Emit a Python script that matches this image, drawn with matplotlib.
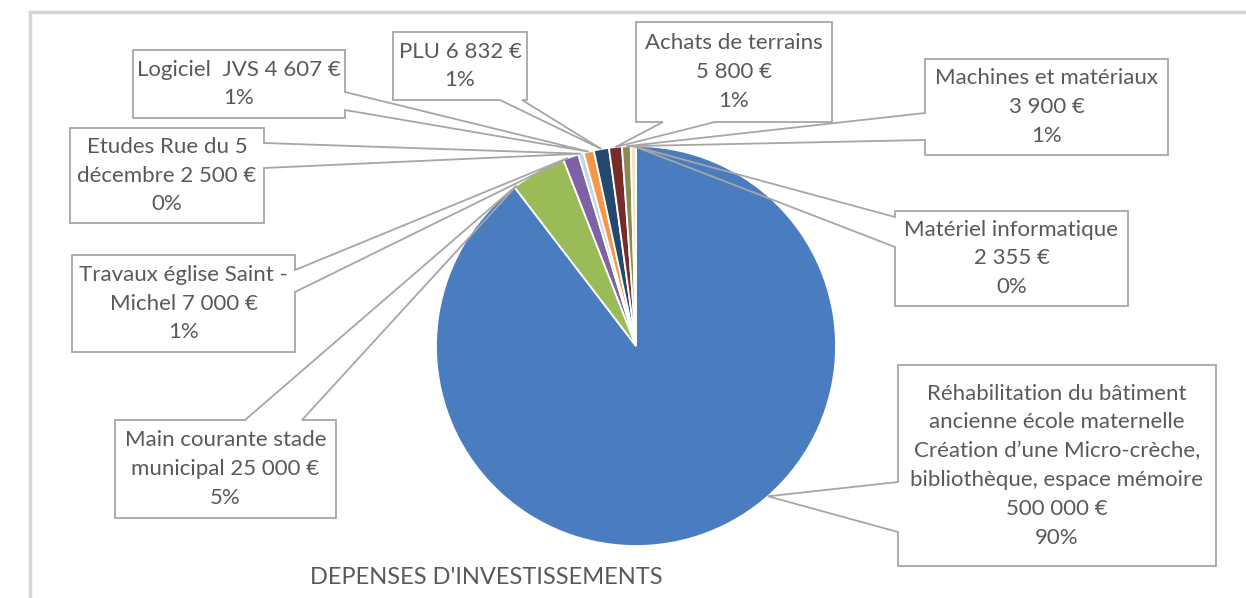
import numpy as np
import matplotlib
matplotlib.use("Agg")
import matplotlib.pyplot as plt
from matplotlib.patches import Polygon

# data
titles = [
    "Réhabilitation du bâtiment\nancienne école maternelle\nCréation d’une Micro-crèche,\nbibliothèque, espace mémoire\n",
    "Main courante stade\nmunicipal ",
    "Travaux église Saint -\nMichel ",
    "Etudes Rue du 5\ndécembre ",
    "Logiciel  JVS ",
    "PLU ",
    "Achats de terrains\n",
    "Machines et matériaux\n",
    "Matériel informatique\n",
]
amounts = [500000, 25000, 7000, 2500, 4607, 6832, 5800, 3900, 2355]
pct_labels = ["90%", "5%", "1%", "0%", "1%", "1%", "1%", "1%", "0%"]
colors = ["#4a7dbf", "#9bbb59", "#7f62a6", "#bcd9e6", "#f79646",
          "#23496f", "#772c2a", "#8a8a52", "#ece6c4"]

# layout (pixels, y from top)
W, H = 1246, 598
cx, cy, R = 636, 346, 200
boxes = [(898, 365, 1216, 566), (115, 420, 336, 518), (72, 255, 295, 352),
         (70, 128, 264, 223), (133, 50, 345, 118), (393, 32, 527, 100),
         (636, 22, 832, 122), (925, 59, 1168, 155), (895, 211, 1128, 306)]
sides = ["left", "top", "right", "right", "right", "bottom", "bottom", "left", "left"]
bases = [(482, 532), (245, 302), (270, 292), (143, 168), (92, 110),
         (500, 522), (663, 715), (113, 140), (217, 247)]
tip_frac = [0.43, 0.05, 0.3, 0.5, 0.5, 0.5, 0.5, 0.5, 0.5]

plt.rcParams['font.family'] = ['Lato', 'DejaVu Sans']
fig = plt.figure(figsize=(W / 100, H / 100), dpi=100)
ax = fig.add_axes([0, 0, 1, 1])

wedges, _ = ax.pie(amounts, colors=colors, startangle=90, counterclock=False,
                   center=(cx, H - cy), radius=R,
                   wedgeprops=dict(edgecolor="white", linewidth=1.3))
ax.set_xlim(0, W)
ax.set_ylim(0, H)
ax.set_aspect("equal")
ax.axis("off")

# chart frame (top and left edges visible)
ax.plot([30, W], [H - 12, H - 12], color="#d4d4d4", lw=2.5)
ax.plot([30, 30], [0, H - 12], color="#d4d4d4", lw=2.5)

def callout(box, side, base, tip):
    x0, y0, x1, y1 = box
    b0, b1 = base
    if side == "top":
        pts = [(x0, y0), (b0, y0), tip, (b1, y0), (x1, y0), (x1, y1), (x0, y1)]
    elif side == "right":
        pts = [(x0, y0), (x1, y0), (x1, b0), tip, (x1, b1), (x1, y1), (x0, y1)]
    elif side == "bottom":
        pts = [(x0, y0), (x1, y0), (x1, y1), (b1, y1), tip, (b0, y1), (x0, y1)]
    else:
        pts = [(x0, y0), (x1, y0), (x1, y1), (x0, y1), (x0, b1), tip, (x0, b0)]
    return [(px, H - py) for px, py in pts]

for i, w in enumerate(wedges):
    ang = np.radians(w.theta2 - tip_frac[i] * (w.theta2 - w.theta1))
    tip = (cx + R * np.cos(ang), cy - R * np.sin(ang))
    poly = Polygon(callout(boxes[i], sides[i], bases[i], tip), closed=True,
                   facecolor="none", edgecolor="#a6a6a6", lw=1.3, zorder=4)
    ax.add_patch(poly)
    amount = f"{amounts[i]:,}".replace(",", " ")
    txt = titles[i] + amount + " €\n" + pct_labels[i]
    x0, y0, x1, y1 = boxes[i]
    ax.text((x0 + x1) / 2, H - (y0 + y1) / 2, txt, ha="center", va="center",
            fontsize=16, color="#595959", linespacing=1.55, zorder=5)

ax.text(486, H - 578, "DEPENSES D'INVESTISSEMENTS", ha="center", va="center",
        fontsize=17, color="#595959")

fig.savefig("out.png", dpi=100)
